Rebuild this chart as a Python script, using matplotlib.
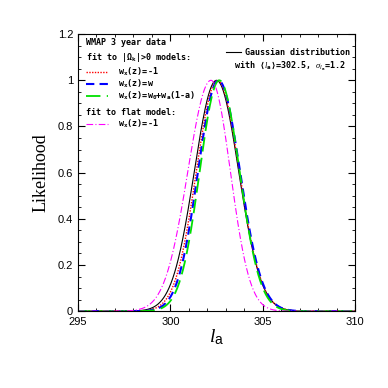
import numpy as np
import matplotlib
matplotlib.use("Agg")
import matplotlib.pyplot as plt

plt.rcParams["mathtext.fontset"] = "custom"
plt.rcParams["mathtext.rm"] = "DejaVu Sans Mono:bold"
plt.rcParams["mathtext.it"] = "Liberation Serif:italic"
plt.rcParams["mathtext.sf"] = "Liberation Sans"

# curve parameters (peak position, left / right width)
models = ["gauss", "wk_m1", "wk_w", "wk_w0wa", "flat_m1"]
labels = ["Gaussian distribution",
          "w$_\\mathrm{x}$(z)=-1", "w$_\\mathrm{x}$(z)=w",
          "w$_\\mathrm{x}$(z)=w$_\\mathrm{0}$+w$_\\mathrm{a}$(1-a)", "w$_\\mathrm{x}$(z)=-1"]
peaks = [302.5, 302.55, 302.6, 302.65, 302.2]
sig_left = [1.2, 1.14, 1.1, 1.06, 1.25]
sig_right = [1.2, 1.18, 1.17, 1.1, 1.05]
colors = ["black", "red", "blue", "#00e000", "magenta"]
styles = ["-", (0, (1, 1)), (0, (4, 2.5)), (0, (8, 3.5)), (0, (6, 2, 1, 2))]
widths = [0.8, 1.0, 1.5, 1.3, 0.8]

x = np.linspace(295, 310, 600)

fig = plt.figure(figsize=(3.88, 3.88), dpi=100)
ax = fig.add_axes([0.201, 0.198, 0.714, 0.714])

lines = {}
for m, p, sl, sr, c, ls, lw in zip(models, peaks, sig_left, sig_right, colors, styles, widths):
    s = np.where(x < p, sl, sr)
    y = np.exp(-0.5 * ((x - p) / s) ** 2)
    lines[m], = ax.plot(x, y, color=c, ls=ls, lw=lw)

ax.set_xlim(295, 310)
ax.set_ylim(0, 1.2)
ax.set_xticks([295, 300, 305, 310])
ax.set_xticks(np.arange(295, 311, 1), minor=True)
ax.set_yticks([0, 0.2, 0.4, 0.6, 0.8, 1, 1.2])
ax.set_yticklabels(["0", "0.2", "0.4", "0.6", "0.8", "1", "1.2"])
ax.set_yticks(np.arange(0, 1.21, 0.05), minor=True)
ax.tick_params(which="both", direction="in", top=True, right=True, labelsize=8)
ax.tick_params(which="major", length=5)
ax.tick_params(which="minor", length=2.5)
ax.tick_params(axis="x", pad=4.5)
for t in ax.get_xticklabels() + ax.get_yticklabels():
    t.set_family("Liberation Sans")

ax.set_xlabel("$l_\\mathsf{a}$", fontsize=14, labelpad=0)
ax.set_ylabel("Likelihood", fontsize=13, family="Liberation Serif", labelpad=6)

lfont = dict(family="DejaVu Sans Mono", weight="bold", size=6)
ax.text(0.029, 0.971, "WMAP 3 year data", transform=ax.transAxes, va="center", fontdict=lfont)
ax.text(0.029, 0.914, "fit to |$\\Omega_\\mathrm{k}$|>0 models:", transform=ax.transAxes,
        va="center", fontdict=lfont)
ax.text(0.029, 0.718, "fit to flat model:", transform=ax.transAxes, va="center", fontdict=lfont)

leg1 = ax.legend([lines["wk_m1"], lines["wk_w"], lines["wk_w0wa"]], labels[1:4],
                 loc="upper left", bbox_to_anchor=(0.029, 0.887), frameon=False, prop=lfont,
                 handlelength=2.64, handletextpad=1.2, labelspacing=0.0,
                 borderpad=0, borderaxespad=0)
ax.add_artist(leg1)

leg2 = ax.legend([lines["flat_m1"]], [labels[4]], loc="center left",
                 bbox_to_anchor=(0.029, 0.675), frameon=False, prop=lfont,
                 handlelength=2.64, handletextpad=1.2, borderpad=0, borderaxespad=0)
ax.add_artist(leg2)

leg3 = ax.legend([lines["gauss"]], [labels[0]], loc="center left",
                 bbox_to_anchor=(0.534, 0.935), frameon=False, prop=lfont,
                 handlelength=1.8, handletextpad=0.5, borderpad=0, borderaxespad=0)
ax.text(0.968, 0.884, "with $\\langle l_\\mathrm{a}\\rangle$=302.5, $\\sigma_{l_\\mathrm{a}}$=1.2",
        transform=ax.transAxes, ha="right", va="center", fontdict=lfont)

fig.savefig("out.png", dpi=100)
